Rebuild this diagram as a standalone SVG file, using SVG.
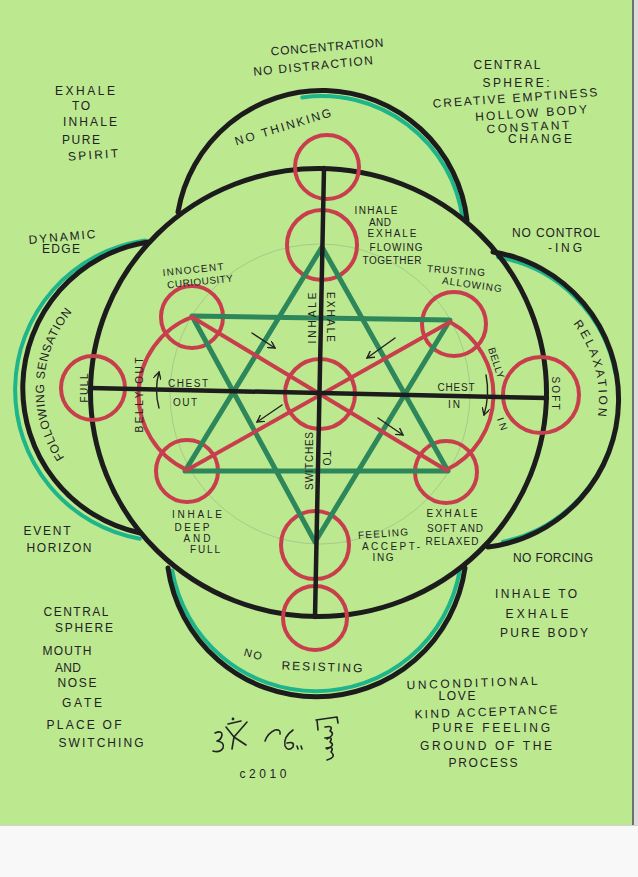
<svg xmlns="http://www.w3.org/2000/svg" width="638" height="877" viewBox="0 0 638 877">
<defs>
<style>
.ink{fill:none;stroke:#1c1c1c;stroke-width:5;stroke-linecap:round;stroke-linejoin:round}
.axis{fill:none;stroke:#1c1c1c;stroke-width:4.5;stroke-linecap:round}
.teal{fill:none;stroke:#1fb58a;stroke-width:4;stroke-linecap:round}
.red{fill:none;stroke:#c83e4d;stroke-width:4;stroke-linejoin:round}
.hex{fill:none;stroke:#2d875a;stroke-width:5;stroke-linejoin:round}
.faint{fill:none;stroke:#8a9c80;stroke-width:0.8;opacity:0.5}
.arr{fill:none;stroke:#222;stroke-width:1.4;stroke-linecap:round}
.sig{fill:none;stroke:#222;stroke-width:1.6;stroke-linecap:round;stroke-linejoin:round}
text{font-family:"Liberation Sans",Arial,sans-serif;fill:#222;text-anchor:middle}
.o{font-size:12px}
.i{font-size:10px}
</style>
<marker id="ah" viewBox="0 0 8 8" refX="7" refY="4" markerWidth="8" markerHeight="8" orient="auto" markerUnits="userSpaceOnUse"><path d="M0,0 L7,4 L0,8" fill="none" stroke="#222" stroke-width="1.4"/></marker>
<path id="pFollow" d="M72.5 468.4 A122 122 0 0 1 81.2 302.2"/>
<path id="pRelax" d="M562.1 310.9 A126 126 0 0 1 594.7 432.6"/>
</defs>

<rect x="0" y="0" width="638" height="877" fill="#bce890"/>
<rect x="632" y="0" width="6" height="826" fill="#dcdcdc"/>
<line x1="633" y1="0" x2="633" y2="826" stroke="#707070" stroke-width="2"/>
<rect x="0" y="825" width="638" height="52" fill="#f8f8f8"/>
<line x1="0" y1="825.5" x2="638" y2="825.5" stroke="#d0d0d0" stroke-width="1"/>

<g id="construction">
<circle class="faint" cx="320" cy="394" r="150"/>
</g>

<g id="teal-edges">
<path class="teal" d="M302.2 97.4 A142 142 0 0 1 462.6 218.2"/>
<path class="teal" d="M145 240.5 A151 151 0 0 0 139.8 538.7"/>
<path class="teal" d="M498.2 257.2 A145 145 0 0 1 615.8 374.8"/>
<path class="teal" d="M613.1 437.5 A145 145 0 0 1 503.1 541.8"/>
<path class="teal" d="M172.2 570.4 A146 146 0 0 0 459.8 570.4"/>
</g>

<g id="lobes">
<path id="lobe-top" class="ink" d="M178 212 A146 146 0 0 1 467 220"/>
<path id="lobe-left" class="ink" d="M148 242 A148 148 0 0 0 140 533"/>
<path id="lobe-right" class="ink" d="M493 252 A149 149 0 0 1 488 547"/>
<path id="lobe-bottom" class="ink" d="M168 568 A150 150 0 0 0 465 568"/>
</g>

<g id="central-sphere">
<ellipse class="ink" cx="318.5" cy="392.5" rx="228" ry="224"/>
</g>

<g id="red-circles">
<circle id="c-top" class="red" cx="327" cy="167" r="32"/>
<circle id="c-flow" class="red" cx="322" cy="245" r="35"/>
<circle id="c-center" class="red" cx="320" cy="394" r="35"/>
<circle id="c-feel" class="red" cx="315" cy="545" r="34"/>
<circle id="c-bottom" class="red" cx="315" cy="618" r="32"/>
<circle id="c-full" class="red" cx="93" cy="388" r="32"/>
<circle id="c-soft" class="red" cx="541" cy="395" r="38"/>
<circle id="c-curious" class="red" cx="192" cy="317" r="31"/>
<circle id="c-trust" class="red" cx="454" cy="324" r="32"/>
<circle id="c-deep" class="red" cx="187" cy="471" r="31"/>
<circle id="c-relaxed" class="red" cx="446" cy="472" r="31"/>
</g>

<g id="hexagram">
<polygon class="hex" points="322,247 448,471 185,471"/>
<polygon class="hex" points="192,316 450,320 315,542"/>
</g>

<g id="breath-figure">
<path class="red" d="M192 317 L446 470 A83 83 0 0 0 450 322 L187 470 A83 83 0 0 1 192 317 Z"/>
</g>

<g id="connectors">
<line class="axis" x1="324" y1="168" x2="315" y2="617"/>
<line class="axis" x1="90" y1="388" x2="547" y2="398"/>
<line class="arr" x1="252" y1="333" x2="275" y2="348" marker-end="url(#ah)"/>
<line class="arr" x1="395" y1="338" x2="367" y2="358" marker-end="url(#ah)"/>
<line class="arr" x1="282" y1="405" x2="257" y2="422" marker-end="url(#ah)"/>
<line class="arr" x1="378" y1="418" x2="403" y2="435" marker-end="url(#ah)"/>
<path class="arr" d="M159 408 Q154 390 159 372" marker-end="url(#ah)"/>
<path class="arr" d="M486 375 Q490 395 484 415" marker-end="url(#ah)"/>
</g>

<g id="labels-outer" class="o">
<text x="327" y="51" textLength="113" transform="rotate(-4.5 327 47)">CONCENTRATION</text>
<text x="313" y="70" textLength="120" transform="rotate(-5.5 313 66)">NO DISTRACTION</text>
<text x="85" y="95" textLength="60">EXHALE</text>
<text x="81" y="110" textLength="18">TO</text>
<text x="90" y="126" textLength="54">INHALE</text>
<text x="81" y="144" textLength="38">PURE</text>
<text x="93" y="159" textLength="50" transform="rotate(-4 93 155)">SPIRIT</text>
<text x="507" y="69" textLength="67">CENTRAL</text>
<text x="516" y="87" textLength="67">SPHERE:</text>
<text x="515" y="102" textLength="165" transform="rotate(-4 515 98)">CREATIVE EMPTINESS</text>
<text x="531" y="117" textLength="112" transform="rotate(-4 531 113)">HOLLOW BODY</text>
<text x="528" y="131" textLength="83" transform="rotate(-3 528 127)">CONSTANT</text>
<text x="540" y="143" textLength="64">CHANGE</text>
<text x="283" y="131" textLength="100" transform="rotate(-17 283 127)">NO THINKING</text>
<text x="556" y="237" textLength="88">NO CONTROL</text>
<text x="565" y="252" textLength="34">-ING</text>
<text x="62" y="241" textLength="67" transform="rotate(-5 62 237)">DYNAMIC</text>
<text x="61" y="253" textLength="38">EDGE</text>
<text x="47" y="535" textLength="47">EVENT</text>
<text x="59" y="552" textLength="65">HORIZON</text>
<text x="553" y="562" textLength="80">NO FORCING</text>
<text x="536" y="598" textLength="82">INHALE TO</text>
<text x="537" y="618" textLength="63">EXHALE</text>
<text x="544" y="637" textLength="88">PURE BODY</text>
<text x="76" y="616" textLength="65">CENTRAL</text>
<text x="84" y="632" textLength="58">SPHERE</text>
<text x="67" y="655" textLength="49">MOUTH</text>
<text x="68" y="672" textLength="26">AND</text>
<text x="77" y="687" textLength="39">NOSE</text>
<text x="82" y="707" textLength="40">GATE</text>
<text x="84" y="729" textLength="75">PLACE OF</text>
<text x="101" y="747" textLength="85">SWITCHING</text>
<text x="253" y="658" style="font-size:11px" textLength="18" transform="rotate(15 253 654)">NO</text>
<text x="322" y="671" textLength="81" transform="rotate(2 322 667)">RESISTING</text>
<text x="472" y="687" textLength="131" transform="rotate(-2 472 683)">UNCONDITIONAL</text>
<text x="457" y="700" textLength="37">LOVE</text>
<text x="486" y="716" textLength="143" transform="rotate(-2 486 712)">KIND ACCEPTANCE</text>
<text x="491" y="732" textLength="118">PURE FEELING</text>
<text x="486" y="750" textLength="132">GROUND OF THE</text>
<text x="483" y="767" textLength="69">PROCESS</text>
<text x="263" y="778" textLength="47">c2010</text>
<text textLength="156"><textPath href="#pFollow" startOffset="50%">FOLLOWING SENSATION</textPath></text>
<text textLength="98"><textPath href="#pRelax" startOffset="50%">RELAXATION</textPath></text>
</g>

<g id="labels-inner" class="i">
<text x="376" y="214" textLength="43">INHALE</text>
<text x="380" y="226" textLength="22">AND</text>
<text x="392" y="237" textLength="49">EXHALE</text>
<text x="396" y="251" textLength="53">FLOWING</text>
<text x="392" y="264" textLength="59">TOGETHER</text>
<text x="193" y="273" textLength="61" transform="rotate(-6 193 269)">INNOCENT</text>
<text x="200" y="285" textLength="66" transform="rotate(-6 200 281)">CURIOUSITY</text>
<text x="456" y="274" textLength="58" transform="rotate(4 456 270)">TRUSTING</text>
<text x="472" y="288" textLength="60" transform="rotate(8 472 284)">ALLOWING</text>
<text x="188" y="387" textLength="40">CHEST</text>
<text x="185" y="406" textLength="24">OUT</text>
<text x="456" y="391" textLength="37">CHEST</text>
<text x="454" y="408" textLength="12">IN</text>
<text x="197" y="518" textLength="50">INHALE</text>
<text x="192" y="531" textLength="35">DEEP</text>
<text x="197" y="542" textLength="27">AND</text>
<text x="205" y="553" textLength="30">FULL</text>
<text x="383" y="537" textLength="50" transform="rotate(-4 383 533)">FEELING</text>
<text x="391" y="550" textLength="58">ACCEPT-</text>
<text x="383" y="561" textLength="21">ING</text>
<text x="452" y="517" textLength="51">EXHALE</text>
<text x="455" y="532" textLength="56">SOFT AND</text>
<text x="452" y="545" textLength="53">RELAXED</text>
<text x="0" y="0" textLength="51" transform="translate(316 318) rotate(-90)">INHALE</text>
<text x="0" y="0" textLength="50" transform="translate(327 317) rotate(90)">EXHALE</text>
<text x="0" y="0" textLength="58" transform="translate(313 461) rotate(-90)">SWITCHES</text>
<text x="0" y="0" textLength="15" transform="translate(323 458) rotate(90)">TO</text>
<text x="0" y="0" textLength="75" transform="translate(143 395) rotate(-90)">BELLY OUT</text>
<text x="0" y="0" textLength="29" transform="translate(88 388) rotate(-90)">FULL</text>
<text x="0" y="0" textLength="33" transform="translate(552 393) rotate(90)">SOFT</text>
<text x="0" y="0" textLength="32" transform="translate(493 364) rotate(72)">BELLY</text>
<text x="0" y="0" textLength="13" transform="translate(499 425) rotate(70)">IN</text>
</g>

<g id="signature">
<path class="sig" d="M215 733 Q222 730 222 735 Q221 740 217 741 Q225 742 223 748 Q220 753 213 751"/>
<path class="sig" d="M226 727 L234 737 L247 722"/>
<path class="sig" d="M234 737 L232 749 M234 737 L246 745 M228 724 L241 721"/>
<circle cx="233" cy="719" r="1.4" fill="#222"/>
<path class="sig" d="M265 741 Q268 733 275 730 Q281 729 280 734"/>
<path class="sig" d="M293 730 Q283 737 285 746 Q288 752 293 747 Q295 741 287 743"/>
<path class="sig" d="M297 746 l1 3 M301 746 l1 3"/>
<path class="sig" d="M316 720 L337 717 L338 723 M317 720 L318 730"/>
<path class="sig" d="M325 727 Q334 725 330 731 Q336 734 327 739"/>
<path class="sig" d="M325 738 Q334 736 330 742 Q336 745 327 749"/>
<path class="sig" d="M326 748 Q335 746 331 752 Q337 757 327 760"/>
</g>
</svg>
